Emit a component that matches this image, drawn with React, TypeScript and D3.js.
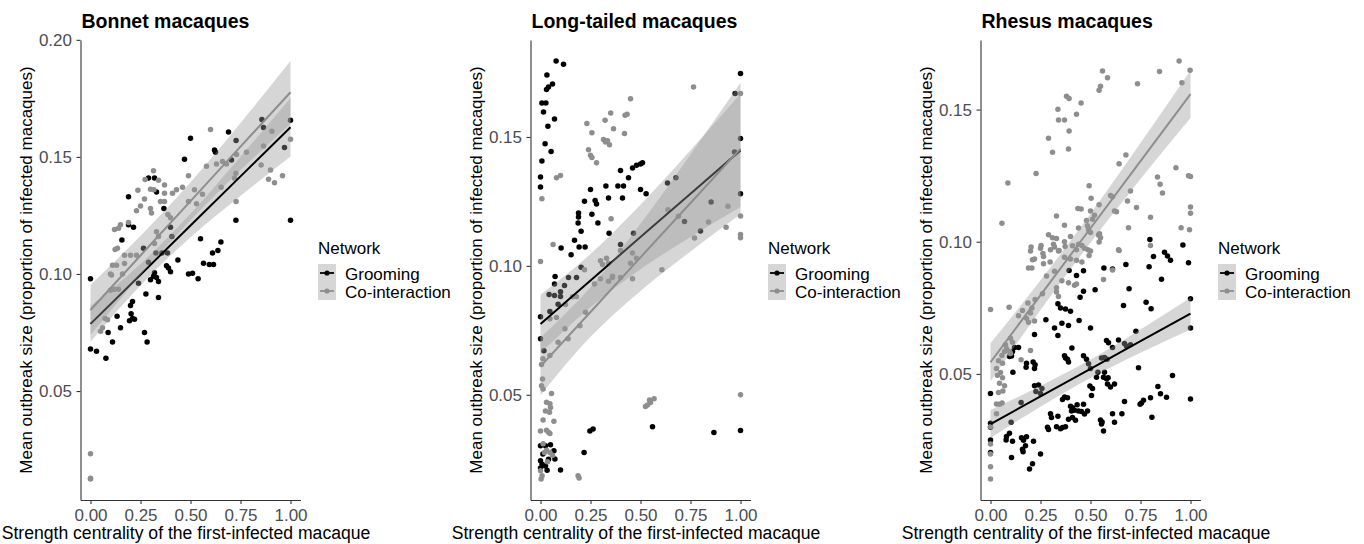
import React, { useEffect, useRef } from 'react';
import * as d3 from 'd3';

type Pt = [number, number];

// Bonnet macaques: [strength centrality, mean outbreak size]
const bonnetGrooming: Pt[] = [
  [0.0, 0.098], [0.0, 0.068], [0.03, 0.067], [0.077, 0.064], [0.088, 0.075], [0.11, 0.071], [0.133, 0.082],
  [0.15, 0.077], [0.195, 0.08], [0.21, 0.081], [0.2, 0.0865], [0.21, 0.0882], [0.22, 0.0807], [0.203, 0.083],
  [0.24, 0.096], [0.277, 0.0915], [0.283, 0.071], [0.27, 0.075], [0.34, 0.09], [0.3, 0.0975], [0.315, 0.099],
  [0.33, 0.0985], [0.34, 0.0968], [0.32, 0.1005], [0.38, 0.1035], [0.39, 0.1026], [0.29, 0.105], [0.4, 0.101],
  [0.437, 0.106], [0.49, 0.1], [0.51, 0.1003], [0.538, 0.098], [0.565, 0.1046], [0.594, 0.104], [0.615, 0.104],
  [0.61, 0.109], [0.637, 0.11], [0.652, 0.1137], [0.55, 0.115], [0.327, 0.109], [0.357, 0.109], [0.385, 0.109],
  [0.265, 0.111], [0.407, 0.116], [0.157, 0.1145], [0.19, 0.121], [0.215, 0.12], [0.367, 0.128], [0.19, 0.133],
  [0.33, 0.135], [0.29, 0.141], [0.32, 0.141], [0.47, 0.149], [0.5, 0.158], [0.62, 0.153], [0.625, 0.152],
  [0.69, 0.1606], [0.705, 0.1487], [0.728, 0.157], [0.857, 0.166], [0.865, 0.1626], [0.97, 0.154], [1.0, 0.1657],
  [1.0, 0.123], [0.727, 0.123], [0.4, 0.12],
];
const bonnetCo: Pt[] = [
  [0.0, 0.0232], [0.0, 0.0128], [0.0, 0.0124], [0.05, 0.0755], [0.06, 0.077], [0.073, 0.081], [0.085, 0.0805],
  [0.105, 0.0996], [0.1, 0.093], [0.12, 0.0935], [0.14, 0.0935], [0.1, 0.1], [0.16, 0.1], [0.11, 0.1037],
  [0.13, 0.1037], [0.17, 0.1045], [0.123, 0.1105], [0.135, 0.111], [0.17, 0.108], [0.2, 0.108], [0.23, 0.108],
  [0.12, 0.119], [0.15, 0.121], [0.19, 0.122], [0.14, 0.1195], [0.32, 0.113], [0.34, 0.116], [0.33, 0.118],
  [0.23, 0.127], [0.25, 0.129], [0.27, 0.132], [0.3, 0.128], [0.305, 0.126], [0.35, 0.131], [0.37, 0.131],
  [0.387, 0.1254], [0.4, 0.124], [0.237, 0.1358], [0.3, 0.1362], [0.317, 0.136], [0.37, 0.1345], [0.41, 0.1345],
  [0.273, 0.1404], [0.315, 0.1441], [0.34, 0.14], [0.37, 0.138], [0.43, 0.136], [0.46, 0.137], [0.49, 0.142],
  [0.52, 0.136], [0.53, 0.13], [0.56, 0.134], [0.58, 0.146], [0.49, 0.131], [0.6, 0.1617], [0.63, 0.147],
  [0.66, 0.148], [0.68, 0.147], [0.653, 0.137], [0.72, 0.141], [0.727, 0.143], [0.728, 0.131], [0.73, 0.151],
  [0.78, 0.152], [0.853, 0.1465], [0.865, 0.1547], [0.9, 0.1444], [0.89, 0.1405], [0.92, 0.139], [0.907, 0.161],
  [1.0, 0.1575], [0.96, 0.142],
];

// Long-tailed macaques
const longGrooming: Pt[] = [
  [0.078, 0.1795], [0.115, 0.1782], [0.032, 0.174], [0.06, 0.1705], [0.04, 0.1694], [0.03, 0.1684], [0.007, 0.1632],
  [0.027, 0.1632], [0.015, 0.1597], [0.07, 0.157], [0.037, 0.1542], [0.023, 0.1474], [0.053, 0.1444], [0.007, 0.1407],
  [0.0, 0.1345], [0.0, 0.1306], [0.4, 0.137], [0.46, 0.138], [0.48, 0.139], [0.5, 0.1395], [0.51, 0.14],
  [0.44, 0.1342], [0.327, 0.131], [0.387, 0.131], [0.415, 0.131], [0.25, 0.1296], [0.5, 0.1296], [0.528, 0.128],
  [0.34, 0.1263], [0.41, 0.1263], [0.22, 0.1251], [0.273, 0.1254], [0.28, 0.124], [0.19, 0.1205], [0.19, 0.119],
  [0.188, 0.1166], [0.257, 0.12], [0.287, 0.1166], [0.203, 0.1134], [0.343, 0.1127], [0.17, 0.1099], [0.193, 0.1073],
  [0.223, 0.1073], [0.103, 0.1069], [0.153, 0.1043], [0.073, 0.0959], [0.14, 0.0955], [0.18, 0.0955], [0.203, 0.0995],
  [0.4, 0.1083], [0.465, 0.1127], [0.635, 0.1321], [0.677, 0.1342], [1.0, 0.1746], [0.973, 0.1669], [1.0, 0.1494],
  [1.0, 0.128], [0.97, 0.1442], [0.853, 0.1248], [0.72, 0.1172], [0.8, 0.1135], [0.0, 0.0803], [0.0, 0.0717],
  [0.017, 0.0671], [0.043, 0.0889], [0.07, 0.0885], [0.1, 0.0881], [0.047, 0.0823], [0.088, 0.0851], [0.12, 0.0924],
  [0.07, 0.093], [0.1, 0.09], [0.0, 0.0302], [0.025, 0.0302], [0.05, 0.0306], [0.0, 0.0244], [0.008, 0.0231],
  [0.025, 0.0224], [0.033, 0.0207], [0.067, 0.0283], [0.072, 0.0251], [0.1, 0.0208], [0.0, 0.0216], [0.012, 0.027],
  [0.04, 0.025], [0.218, 0.0276], [0.247, 0.036], [0.263, 0.0367], [0.56, 0.0376], [0.867, 0.0354], [1.0, 0.0361],
];
const longCo: Pt[] = [
  [0.765, 0.1694], [1.0, 0.1669], [0.45, 0.1648], [0.423, 0.1584], [0.433, 0.1588], [0.351, 0.1593], [0.232, 0.1552],
  [0.323, 0.1565], [0.365, 0.1532], [0.257, 0.1516], [0.42, 0.1513], [0.315, 0.149], [0.325, 0.148], [0.335, 0.1485],
  [0.345, 0.147], [0.24, 0.145], [0.25, 0.1429], [0.257, 0.142], [0.28, 0.14], [0.08, 0.1342], [0.1, 0.1351],
  [0.007, 0.126], [0.353, 0.1183], [0.063, 0.1083], [0.0, 0.1017], [0.3, 0.102], [0.31, 0.1005], [0.33, 0.103],
  [0.34, 0.101], [0.4, 0.106], [0.46, 0.105], [0.48, 0.103], [0.45, 0.101], [0.637, 0.1218], [0.69, 0.1192],
  [0.77, 0.1108], [0.84, 0.117], [0.928, 0.115], [0.937, 0.1231], [1.0, 0.1193], [1.0, 0.1122], [1.0, 0.1109],
  [0.607, 0.0985], [0.22, 0.0985], [0.36, 0.0955], [0.4, 0.0955], [0.46, 0.095], [0.005, 0.0617], [0.012, 0.064],
  [0.047, 0.0652], [0.088, 0.0704], [0.138, 0.0717], [0.122, 0.0756], [0.197, 0.0768], [0.225, 0.082], [0.08, 0.08],
  [0.047, 0.0795], [0.125, 0.085], [0.16, 0.088], [0.18, 0.088], [0.27, 0.093], [0.3, 0.095], [0.34, 0.094],
  [0.36, 0.096], [1.0, 0.05], [0.525, 0.0455], [0.535, 0.046], [0.55, 0.047], [0.545, 0.048], [0.568, 0.0485],
  [0.188, 0.0186], [0.193, 0.0177], [0.005, 0.0535], [0.01, 0.0561], [0.013, 0.0522], [0.03, 0.0471], [0.047, 0.0465],
  [0.05, 0.0451], [0.025, 0.0437], [0.045, 0.0432], [0.013, 0.0402], [0.055, 0.0505], [0.067, 0.0397], [0.0, 0.036],
  [0.03, 0.0362], [0.04, 0.0355], [0.047, 0.035], [0.013, 0.031], [0.03, 0.0285], [0.047, 0.0276], [0.02, 0.0276],
  [0.0, 0.0205], [0.008, 0.0186], [0.003, 0.0173], [0.06, 0.0265], [0.035, 0.024],
];

// Rhesus macaques
const rhesusGrooming: Pt[] = [
  [0.797, 0.1008], [0.962, 0.0988], [0.815, 0.0944], [0.87, 0.096], [0.885, 0.0946], [0.9, 0.093], [0.99, 0.092],
  [0.793, 0.0905], [0.677, 0.0914], [0.567, 0.0901], [0.61, 0.0897], [0.393, 0.0891], [0.43, 0.0872], [0.465, 0.089],
  [0.855, 0.0858], [0.523, 0.0818], [0.465, 0.0813], [0.448, 0.079], [0.693, 0.0822], [0.665, 0.0759], [0.778, 0.0771],
  [0.803, 0.0746], [1.0, 0.0784], [1.0, 0.0674], [0.337, 0.0765], [0.35, 0.0749], [0.375, 0.0745], [0.4, 0.0737],
  [0.277, 0.0705], [0.443, 0.0702], [0.357, 0.0692], [0.39, 0.0683], [0.32, 0.0674], [0.337, 0.0645], [0.5, 0.0674],
  [0.22, 0.0649], [0.727, 0.0661], [0.58, 0.0626], [0.59, 0.0618], [0.64, 0.0628], [0.68, 0.0605], [0.67, 0.0615],
  [0.7, 0.061], [0.61, 0.06], [0.407, 0.0598], [0.12, 0.06], [0.14, 0.06], [0.11, 0.0585], [0.105, 0.0568],
  [0.095, 0.0566], [0.37, 0.0569], [0.385, 0.0555], [0.39, 0.0545], [0.375, 0.056], [0.465, 0.0569], [0.48, 0.0555],
  [0.49, 0.0538], [0.555, 0.056], [0.583, 0.0555], [0.57, 0.0562], [0.537, 0.0506], [0.53, 0.0487], [0.57, 0.0506],
  [0.565, 0.0487], [0.58, 0.0482], [0.588, 0.0485], [0.62, 0.0462], [0.6, 0.045], [0.585, 0.0462], [0.5, 0.052],
  [0.497, 0.0454], [0.51, 0.0445], [0.505, 0.0418], [0.18, 0.054], [0.178, 0.0525], [0.213, 0.0545], [0.223, 0.0535],
  [0.22, 0.052], [0.112, 0.0506], [0.0, 0.0426], [0.22, 0.0455], [0.24, 0.0458], [0.257, 0.0445], [0.227, 0.0433],
  [0.25, 0.0426], [0.153, 0.0392], [0.103, 0.0317], [0.0, 0.0313], [0.0, 0.0298], [0.37, 0.0413], [0.385, 0.041],
  [0.36, 0.0403], [0.4, 0.0378], [0.41, 0.0372], [0.42, 0.0362], [0.405, 0.036], [0.433, 0.0383], [0.44, 0.036],
  [0.41, 0.0335], [0.425, 0.0325], [0.39, 0.0328], [0.455, 0.0358], [0.47, 0.0348], [0.485, 0.036], [0.465, 0.0385],
  [0.3, 0.0349], [0.305, 0.0335], [0.337, 0.034], [0.33, 0.03], [0.36, 0.0297], [0.375, 0.03], [0.35, 0.0292],
  [0.29, 0.029], [0.285, 0.0298], [0.55, 0.0326], [0.555, 0.031], [0.565, 0.0284], [0.558, 0.0318], [0.61, 0.0349],
  [0.62, 0.0317], [0.67, 0.0396], [0.657, 0.0349], [0.748, 0.0385], [0.755, 0.039], [0.765, 0.04], [0.8, 0.041],
  [0.807, 0.0336], [0.837, 0.0452], [0.85, 0.0425], [0.88, 0.0412], [0.91, 0.0494], [1.0, 0.0405], [0.74, 0.0523],
  [0.08, 0.0263], [0.078, 0.025], [0.11, 0.0245], [0.095, 0.0275], [0.155, 0.0258], [0.165, 0.0249], [0.18, 0.0262],
  [0.175, 0.0228], [0.16, 0.0215], [0.163, 0.0205], [0.215, 0.0245], [0.105, 0.0184], [0.25, 0.0197], [0.21, 0.016],
  [0.195, 0.014], [0.0, 0.025], [0.0, 0.0203],
];
const rhesusCo: Pt[] = [
  [0.943, 0.1684], [0.998, 0.1649], [0.845, 0.1644], [0.957, 0.1601], [0.735, 0.1598], [0.56, 0.1646], [0.585, 0.162],
  [0.55, 0.1588], [0.543, 0.1573], [0.38, 0.155], [0.393, 0.1542], [0.453, 0.1525], [0.337, 0.1501], [0.43, 0.1482],
  [0.34, 0.146], [0.37, 0.146], [0.393, 0.1419], [0.29, 0.1391], [0.31, 0.1338], [0.39, 0.1351], [0.677, 0.1328],
  [0.643, 0.1295], [0.927, 0.128], [1.0, 0.1247], [0.99, 0.125], [0.835, 0.1245], [0.848, 0.1217], [0.86, 0.1184],
  [0.228, 0.1258], [0.087, 0.1222], [0.057, 0.107], [0.493, 0.1212], [0.7, 0.1192], [0.685, 0.1154], [0.73, 0.1129],
  [0.8, 0.1093], [0.69, 0.1053], [0.953, 0.1053], [1.0, 0.1131], [1.0, 0.1108], [0.995, 0.1045], [0.503, 0.1164],
  [0.543, 0.114], [0.6, 0.1175], [0.61, 0.117], [0.62, 0.1116], [0.63, 0.1113], [0.437, 0.1126], [0.453, 0.1124],
  [0.5, 0.1116], [0.33, 0.1097], [0.48, 0.108], [0.485, 0.106], [0.49, 0.1045], [0.5, 0.1035], [0.52, 0.11],
  [0.51, 0.1085], [0.37, 0.1062], [0.44, 0.1052], [0.54, 0.1025], [0.55, 0.1015], [0.545, 0.103], [0.29, 0.1026],
  [0.31, 0.1015], [0.33, 0.1012], [0.315, 0.099], [0.32, 0.098], [0.3, 0.097], [0.34, 0.0965], [0.2, 0.0965],
  [0.25, 0.0975], [0.265, 0.0944], [0.37, 0.1], [0.4, 0.102], [0.41, 0.0985], [0.44, 0.099], [0.47, 0.0975],
  [0.43, 0.097], [0.5, 0.0965], [0.64, 0.097], [0.21, 0.0932], [0.203, 0.098], [0.253, 0.0986], [0.262, 0.0955],
  [0.343, 0.0967], [0.373, 0.0982], [0.457, 0.0986], [0.487, 0.097], [0.493, 0.0948], [0.37, 0.0941], [0.4, 0.0935],
  [0.43, 0.093], [0.457, 0.0923], [0.543, 0.0999], [0.643, 0.0967], [0.8, 0.0986], [0.22, 0.0935], [0.265, 0.0917],
  [0.298, 0.0923], [0.19, 0.0901], [0.207, 0.0901], [0.32, 0.0888], [0.28, 0.087], [0.357, 0.0852], [0.42, 0.0835],
  [0.39, 0.0845], [0.43, 0.084], [0.33, 0.0826], [0.565, 0.0857], [0.61, 0.0893], [0.33, 0.081], [0.34, 0.0793],
  [0.26, 0.0803], [0.223, 0.0781], [0.187, 0.0768], [0.207, 0.0749], [0.093, 0.0752], [0.0, 0.0744], [0.16, 0.074],
  [0.18, 0.071], [0.19, 0.0695], [0.14, 0.072], [0.2, 0.073], [0.22, 0.07], [0.1, 0.0635], [0.11, 0.062],
  [0.075, 0.061], [0.08, 0.0595], [0.07, 0.0585], [0.095, 0.0585], [0.1, 0.0577], [0.2, 0.0588], [0.057, 0.057],
  [0.04, 0.055], [0.03, 0.052], [0.06, 0.054], [0.05, 0.0505], [0.035, 0.0495], [0.06, 0.0485], [0.045, 0.0465],
  [0.04, 0.043], [0.062, 0.0435], [0.07, 0.0455], [0.153, 0.0553], [0.03, 0.0386], [0.03, 0.0349], [0.0, 0.0235],
  [0.0, 0.0197], [0.0, 0.0149], [0.0, 0.0102], [0.0, 0.03], [0.058, 0.039], [0.045, 0.0385],
];

// fitted lm lines and 95% bands, read at these x positions
const fitX = [0, 0.25, 0.5, 0.75, 1];
const bonnetGroomingFit = [0.0787, 0.0997, 0.1207, 0.1417, 0.1627];
const bonnetGroomingLo = [0.0711, 0.0951, 0.1157, 0.1333, 0.1502];
const bonnetGroomingHi = [0.0863, 0.1043, 0.1257, 0.1501, 0.1752];
const bonnetCoFit = [0.0846, 0.1079, 0.1311, 0.1544, 0.1776];
const bonnetCoLo = [0.0739, 0.0995, 0.123, 0.1443, 0.1642];
const bonnetCoHi = [0.0953, 0.1163, 0.1392, 0.1645, 0.191];

const longGroomingFit = [0.0775, 0.0943, 0.1112, 0.128, 0.1448];
const longGroomingLo = [0.0662, 0.084, 0.0987, 0.1112, 0.1228];
const longGroomingHi = [0.0888, 0.1046, 0.1237, 0.1448, 0.1668];
const longCoFit = [0.061, 0.0821, 0.1033, 0.1244, 0.1455];
const longCoLo = [0.0498, 0.0725, 0.0903, 0.1056, 0.12];
const longCoHi = [0.0722, 0.0917, 0.1163, 0.1432, 0.171];

const rhesusGroomingFit = [0.031, 0.0415, 0.0519, 0.0624, 0.0728];
const rhesusGroomingLo = [0.0257, 0.0376, 0.0484, 0.058, 0.0668];
const rhesusGroomingHi = [0.0363, 0.0454, 0.0554, 0.0668, 0.0788];
const rhesusCoFit = [0.0544, 0.0798, 0.1051, 0.1305, 0.1558];
const rhesusCoLo = [0.0472, 0.0742, 0.0996, 0.1237, 0.1468];
const rhesusCoHi = [0.0616, 0.0854, 0.1106, 0.1373, 0.1648];

const titles = ['Bonnet macaques', 'Long-tailed macaques', 'Rhesus macaques'];
const xTicks = [0, 0.25, 0.5, 0.75, 1];
const yTicksBonnet = [0.05, 0.1, 0.15, 0.2];
const yTicksOther = [0.05, 0.1, 0.15];
const networks = ['Grooming', 'Co-interaction'];

const FONT = "'Liberation Sans', Arial, Helvetica, sans-serif";
const GREY = '#8e8e8e';

const App = () => {
  const svgRef = useRef(null);

  useEffect(() => {
    document.body.style.margin = '0';
    const svg = d3.select(svgRef.current);
    svg.selectAll('*').remove();

    const top = 40;
    const bottom = 500;
    const pw = 220;

    const panels = [
      {
        title: titles[0], left: 80.5, yTicks: yTicksBonnet,
        series: [
          { pts: bonnetGrooming, fit: bonnetGroomingFit, lo: bonnetGroomingLo, hi: bonnetGroomingHi, color: '#000' },
          { pts: bonnetCo, fit: bonnetCoFit, lo: bonnetCoLo, hi: bonnetCoHi, color: GREY },
        ],
      },
      {
        title: titles[1], left: 530.5, yTicks: yTicksOther,
        series: [
          { pts: longGrooming, fit: longGroomingFit, lo: longGroomingLo, hi: longGroomingHi, color: '#000' },
          { pts: longCo, fit: longCoFit, lo: longCoLo, hi: longCoHi, color: GREY },
        ],
      },
      {
        title: titles[2], left: 980.5, yTicks: yTicksOther,
        series: [
          { pts: rhesusGrooming, fit: rhesusGroomingFit, lo: rhesusGroomingLo, hi: rhesusGroomingHi, color: '#000' },
          { pts: rhesusCo, fit: rhesusCoFit, lo: rhesusCoLo, hi: rhesusCoHi, color: GREY },
        ],
      },
    ];

    panels.forEach(p => {
      const xScale = d3.scaleLinear().domain([-0.05, 1.05]).range([p.left, p.left + pw]);

      // y range like ggplot: data + ribbons, expanded by 5%
      const allY: number[] = [];
      p.series.forEach(s => {
        s.pts.forEach(d => allY.push(d[1]));
        allY.push(...s.lo, ...s.hi);
      });
      const [mn, mx] = d3.extent(allY) as [number, number];
      const pad = (mx - mn) * 0.05;
      const yScale = d3.scaleLinear().domain([mn - pad, mx + pad]).range([bottom, top]);

      const g = svg.append('g');

      // points
      p.series.forEach(s => {
        g.append('g')
          .selectAll('circle')
          .data(s.pts)
          .enter().append('circle')
          .attr('cx', d => xScale(d[0]))
          .attr('cy', d => yScale(d[1]))
          .attr('r', 2.75)
          .attr('fill', s.color);
      });

      // smooth: ribbon then line per group
      const area = d3.area<number>()
        .x((d, i) => xScale(fitX[i]))
        .y0((d, i) => yScale(d))
        .curve(d3.curveMonotoneX);
      const line = d3.line<number>()
        .x((d, i) => xScale(fitX[i]))
        .y(d => yScale(d));

      p.series.forEach(s => {
        g.append('path')
          .datum(s.lo)
          .attr('d', area.y1((d, i) => yScale(s.hi[i])))
          .attr('fill', '#999999')
          .attr('fill-opacity', 0.4);
        g.append('path')
          .datum(s.fit)
          .attr('d', line)
          .attr('fill', 'none')
          .attr('stroke', s.color)
          .attr('stroke-width', 2);
      });

      // axes
      const xAxis = g.append('g')
        .attr('transform', `translate(0, ${bottom})`)
        .call(d3.axisBottom(xScale).tickValues(xTicks).tickFormat(d3.format('.2f')).tickSize(4).tickSizeOuter(0).tickPadding(5));
      const yAxis = g.append('g')
        .attr('transform', `translate(${p.left}, 0)`)
        .call(d3.axisLeft(yScale).tickValues(p.yTicks).tickFormat(d3.format('.2f')).tickSize(4).tickSizeOuter(0).tickPadding(4.5));

      [xAxis, yAxis].forEach(a => {
        a.select('.domain').attr('stroke', '#333').attr('stroke-width', 1.1);
        a.selectAll('.tick line').attr('stroke', '#333').attr('stroke-width', 1.1);
        a.selectAll('.tick text')
          .attr('fill', '#4d4d4d')
          .attr('font-size', 17)
          .attr('font-family', FONT);
      });

      // title
      svg.append('text')
        .attr('x', p.left + 1)
        .attr('y', 28)
        .attr('font-family', FONT)
        .attr('font-size', 19.5)
        .attr('font-weight', 'bold')
        .text(p.title);

      // axis titles
      svg.append('text')
        .attr('x', p.left + pw / 2 - 4.5)
        .attr('y', 539)
        .attr('text-anchor', 'middle')
        .attr('font-family', FONT)
        .attr('font-size', 17.6)
        .text('Strength centrality of the first-infected macaque');

      svg.append('text')
        .attr('transform', `translate(${p.left - 48.5}, ${(top + bottom) / 2}) rotate(-90)`)
        .attr('text-anchor', 'middle')
        .attr('font-family', FONT)
        .attr('font-size', 17)
        .text('Mean outbreak size (proportion of infected macaques)');

      // legend
      const lx = p.left + pw + 17.5;
      const legend = svg.append('g');
      legend.append('text')
        .attr('x', lx)
        .attr('y', 254)
        .attr('font-family', FONT)
        .attr('font-size', 17)
        .text('Network');

      p.series.forEach((s, i) => {
        const ky = 264 + i * 18;
        legend.append('rect')
          .attr('x', lx)
          .attr('y', ky)
          .attr('width', 18)
          .attr('height', 18)
          .attr('fill', '#999999')
          .attr('fill-opacity', 0.4);
        legend.append('line')
          .attr('x1', lx + 2)
          .attr('x2', lx + 16)
          .attr('y1', ky + 9)
          .attr('y2', ky + 9)
          .attr('stroke', s.color)
          .attr('stroke-width', 1.8);
        legend.append('circle')
          .attr('cx', lx + 9)
          .attr('cy', ky + 9)
          .attr('r', 2.6)
          .attr('fill', s.color);
        legend.append('text')
          .attr('x', lx + 27)
          .attr('y', ky + 15.5)
          .attr('font-family', FONT)
          .attr('font-size', 17)
          .text(networks[i]);
      });
    });
  });

  return (
    <svg ref={svgRef} width="1364" height="544" style={{ display: 'block', background: '#fff' }}></svg>
  );
};

export default App;
